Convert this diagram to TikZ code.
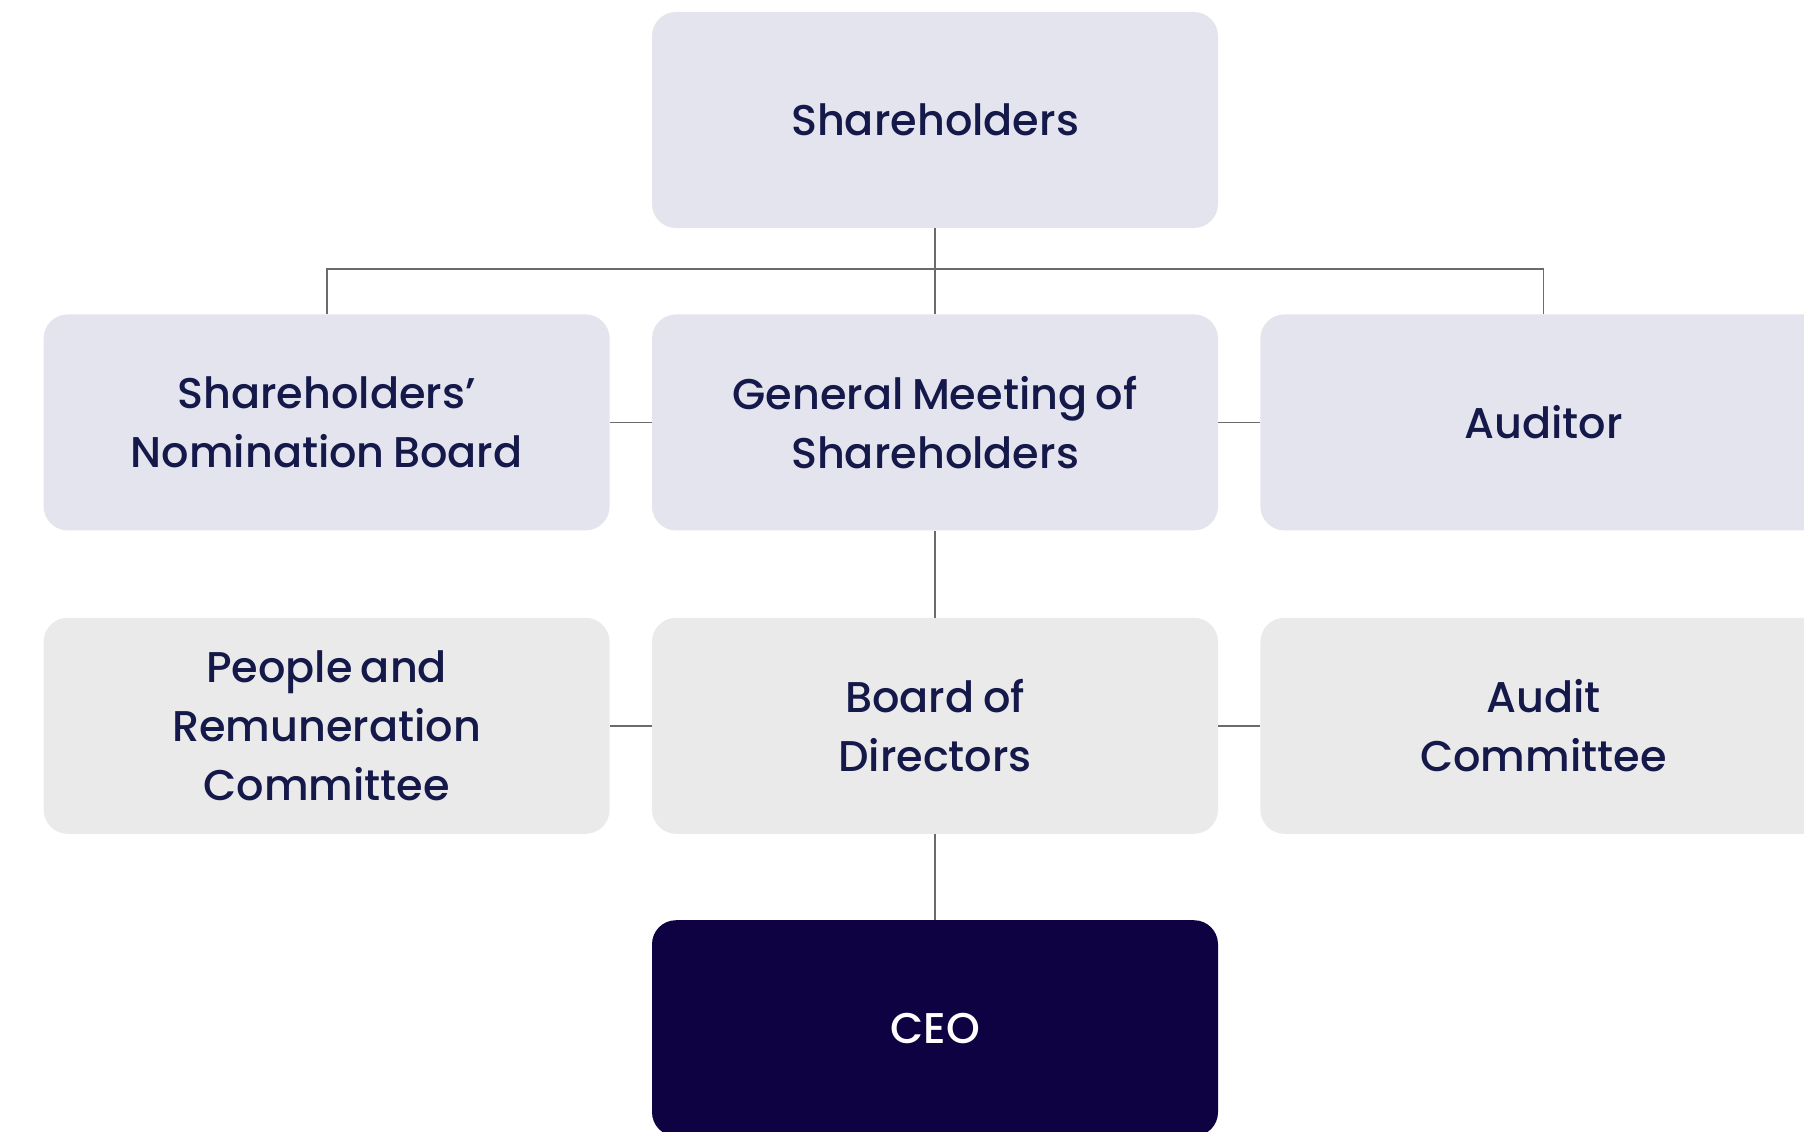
\documentclass[tikz,border=0pt]{standalone}
\usepackage{fontspec}
\setmainfont{Poppins}[UprightFont=* Medium, WordSpace=0.75]
\usepackage{tikz}
\usetikzlibrary{positioning}

\definecolor{navy}{HTML}{14194A}
\definecolor{boxlav}{HTML}{E4E4EE}
\definecolor{boxgrey}{HTML}{EAEAEA}
\definecolor{ceoblue}{HTML}{0E0242}
\definecolor{linkgrey}{HTML}{6B6B6B}

\begin{document}
\begin{tikzpicture}[x=1pt, y=1pt]
        \tikzstyle{every node}=[minimum width=566pt, minimum height=216pt, rounded corners=24pt,
            align=center, text=navy, font=\fontsize{43}{59}\selectfont, inner sep=0pt]
        \tikzstyle{upper}=[fill=boxlav]
        \tikzstyle{lower}=[fill=boxgrey]
        \tikzstyle{top}=[fill=ceoblue, text=white]
        \tikzstyle{link}=[draw=linkgrey, line width=1.8pt]

        \useasboundingbox (0,0) rectangle (1804,-1132);
        \clip (0,0) rectangle (1804,-1132);

        \node (share) [upper] at (935,-120) {Shareholders};

        \node (gm)  [upper, below=86pt of share] {General Meeting of\\Shareholders};
        \node (snb) [upper, left=42pt of gm] {Shareholders’\\Nomination Board};
        \node (aud) [upper, right=42pt of gm] {Auditor};

        \node (bod) [lower, below=87pt of gm] {Board of\\Directors};
        \node (prc) [lower, left=42pt of bod] {People and\\Remuneration\\Committee};
        \node (ac)  [lower, right=42pt of bod] {Audit\\Committee};

        \node (ceo) [top, below=86pt of bod] {CEO};

        \path (share.south) ++(0,-41) coordinate (bus);

        \draw[link] (share.south) -- (gm.north);
        \draw[link] (snb.north) |- (bus) -| (aud.north);
        \draw[link] (snb) -- (gm);
        \draw[link] (gm) -- (aud);
        \draw[link] (gm) -- (bod);
        \draw[link] (prc) -- (bod);
        \draw[link] (bod) -- (ac);
        \draw[link] (bod) -- (ceo);

    \end{tikzpicture}
\end{document}
